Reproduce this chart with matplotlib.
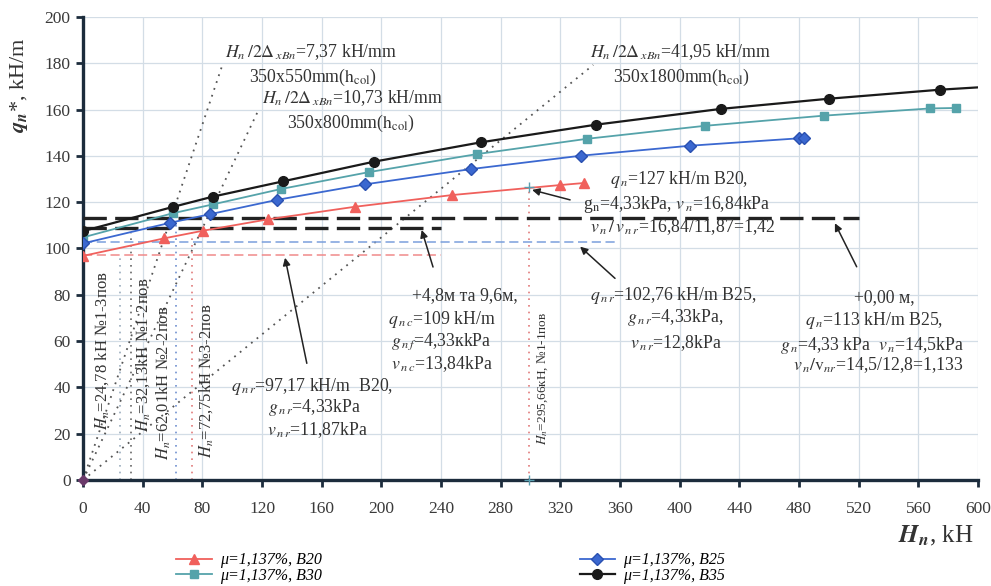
import matplotlib.pyplot as plt
import numpy as np

plt.rcParams['font.family'] = ['Liberation Serif', 'DejaVu Serif']
plt.rcParams['mathtext.fontset'] = 'stix'

# curves
h_b20 = [0, 54.5, 80.6, 124, 182, 247.6, 319.8, 336]
q_b20 = [96.8, 104.4, 107.7, 112.6, 118, 123.1, 127.4, 128.3]
h_b25 = [0, 58.3, 85, 130, 189, 260, 334, 407, 480, 483]
q_b25 = [102.2, 111.1, 114.8, 121, 127.7, 134.3, 140.1, 144.4, 147.6, 147.6]
h_b30 = [0, 60, 87.4, 132.7, 191.7, 264.3, 338, 417, 497, 567.8, 585]
q_b30 = [104.8, 115.2, 119.1, 125.7, 133, 140.8, 147.4, 153, 157.4, 160.5, 160.7]
h_b35 = [0, 60.5, 87, 134, 195, 267, 344, 427.5, 500, 574.6, 600]
q_b35 = [107.5, 118, 122.4, 129, 137.5, 145.9, 153.5, 160.3, 164.7, 168.6, 169.6]

# horizontal design levels: value, x end
lev_values = [113, 109, 102.76, 97.17]
lev_xend = [520, 240, 357, 240]

# vertical markers: H value, top q
vert_h = [24.78, 32.13, 62.01, 72.75, 299]
vert_top = [96.5, 106.5, 110, 107, 126.7]

# stiffness lines from origin: end point
stiff_h = [93, 117.6, 342]
stiff_q = [178.5, 159.8, 179.3]

red = '#f0605c'
teal = '#55a3aa'
blue = '#3b68d0'
dark = '#1a1a1a'

fig = plt.figure(figsize=(9.91, 5.86), dpi=100)
ax = fig.add_axes([0.0838, 0.1809, 0.9032, 0.7901])

ax.set_xlim(0, 600)
ax.set_ylim(0, 200)
ax.set_xticks(np.arange(0, 601, 40))
ax.set_yticks(np.arange(0, 201, 20))
ax.grid(True, color='#d3dde6', lw=0.9)
ax.set_axisbelow(True)
for s in ['top', 'right']:
    ax.spines[s].set_visible(False)
for s in ['left', 'bottom']:
    ax.spines[s].set_color('#1c2c3c')
    ax.spines[s].set_linewidth(2.4)
ax.tick_params(direction='out', length=5, width=2, color='#1c2c3c',
               labelsize=12.5, labelcolor='#3a3a3a')
ax.tick_params(axis='x', pad=10)
ax.tick_params(axis='y', pad=4)

# stiffness lines
for h, q in zip(stiff_h, stiff_q):
    ax.plot([0, h], [0, q], color='#555555', lw=1.3, ls=(0, (1, 3)), zorder=2)

# vertical dotted lines
vcols = ['#9aacbc', '#666666', '#7090d0', '#e07a7a', '#e07a7a']
for h, t, c in zip(vert_h, vert_top, vcols):
    ax.plot([h, h], [0, t], color=c, lw=1.2, ls=(0, (1, 3)), zorder=2)

# horizontal levels
ax.plot([0, lev_xend[0]], [lev_values[0]] * 2, color='#222222', lw=2.4, ls=(0, (7, 2.5)), zorder=3)
ax.plot([0, lev_xend[1]], [lev_values[1]] * 2, color='#222222', lw=2.4, ls=(0, (7, 2.5)), zorder=3)
ax.plot([0, lev_xend[2]], [lev_values[2]] * 2, color='#7a9fdc', lw=1.1, ls=(0, (6, 3)), zorder=3)
ax.plot([0, lev_xend[3]], [lev_values[3]] * 2, color='#f08a8a', lw=1.1, ls=(0, (6, 3)), zorder=3)

# curves
l20, = ax.plot(h_b20, q_b20, color=red, lw=1.3, marker='^', ms=7, zorder=5)
l30, = ax.plot(h_b30, q_b30, color=teal, lw=1.3, marker='s', ms=6, zorder=5)
l25, = ax.plot(h_b25, q_b25, color=blue, lw=1.3, marker='D', ms=6.5, mec='#2a50b0', zorder=5)
l35, = ax.plot(h_b35, q_b35, color=dark, lw=1.6, marker='o', ms=7, markevery=list(range(10)), zorder=6)

ax.plot([vert_h[4]], [vert_top[4]], marker='+', color='#5a9fb0', ms=7, zorder=7)
ax.plot([vert_h[4]], [0], marker='+', color='#5a9fb0', ms=7, zorder=7, clip_on=False)
ax.plot([0], [0], marker='D', color='#6a3a6a', ms=5, zorder=7, clip_on=False)

fs = 12.8
tc = '#333333'
# stiffness labels
ax.text(95, 185, r'$H_n\,/2\Delta_{\,xBn}$=7,37 kH/mm', fontsize=fs, color=tc, va='center')
ax.text(111, 174, r'350x550mm($\mathrm{h_{col}}$)', fontsize=fs, color=tc, va='center')
ax.text(120, 165, r'$H_n\,/2\Delta_{\,xBn}$=10,73 kH/mm', fontsize=fs, color=tc, va='center')
ax.text(137, 154.2, r'350x800mm($\mathrm{h_{col}}$)', fontsize=fs, color=tc, va='center')
ax.text(340, 185, r'$H_n\,/2\Delta_{\,xBn}$=41,95 kH/mm', fontsize=fs, color=tc, va='center')
ax.text(355, 174, r'350x1800mm($\mathrm{h_{col}}$)', fontsize=fs, color=tc, va='center')

# vertical labels
vlabels = [r'$H_n$=24,78 kH №1-3пов', r'$H_n$=32,13kH №1-2пов',
           r'$H_n$=62,01kH №2-2пов', r'$H_n$=72,75kH №3-2пов']
vlx = [12.7, 40.2, 53.6, 82.5]
vly = [56, 54, 42, 43]
for t, x, y in zip(vlabels, vlx, vly):
    ax.text(x, y, t, rotation=90, fontsize=12, color=tc, ha='center', va='center')
ax.text(308.4, 44, r'$H_n$=295,66кН, №1-1пов', rotation=90, fontsize=9.5,
        color=tc, ha='center', va='center')

# annotation blocks
blocks = [
    ([r'$q_{\,n\,r}$=97,17 kH/m  B20,', r'$g_{\,n\,r}$=4,33kPa', r'$v_{\,n\,r}$=11,87kPa'],
     [99, 124, 123], [40.2, 31.5, 21.6]),
    ([r'+4,8м та 9,6м,', r'$q_{\,n\,c}$=109 kH/m', r'$g_{\,n\,f}$=4,33кkPa', r'$v_{\,n\,c}$=13,84kPa'],
     [220.6, 204.5, 206.5, 206.5], [79.5, 69.5, 59.6, 50.1]),
    ([r'$q_{\,n}$=127 kH/m B20,', r'g$_\mathrm{n}$=4,33kPa, $v_{\,n}$=16,84kPa',
      r'$v_{\,n}\,/\,v_{\,n\,r}$=16,84/11,87=1,42'],
     [353.3, 335.2, 339.9], [129.6, 119.2, 109.3]),
    ([r'$q_{\,n\,r}$=102,76 kH/m B25,', r'$g_{\,n\,r}$=4,33kPa,', r'$v_{\,n\,r}$=12,8kPa'],
     [340, 364.7, 366.7], [79.9, 70, 59.2]),
    ([r'+0,00 м,', r'$q_{\,n}$=113 kH/m B25,', r'$g_{\,n}$=4,33 kPa  $v_{\,n}$=14,5kPa',
      r'$v_{\,n}/\mathrm{v}_{nr}$=14,5/12,8=1,133'],
     [517, 484, 467.3, 476], [79, 69.1, 58.3, 49.5]),
]
for lines, xs, ys in blocks:
    for t, x, y in zip(lines, xs, ys):
        ax.text(x, y, t, fontsize=fs, color=tc, va='center', zorder=8)

# arrows: start, target
arr_from = [(150, 50.4), (234.6, 92), (326.5, 121), (356.6, 87.1), (518.6, 92.1)]
arr_to = [(135.4, 96), (227, 108), (301, 125.3), (333.2, 100.8), (504, 110.9)]
for (x0, y0), (x1, y1) in zip(arr_from, arr_to):
    ax.annotate('', xy=(x1, y1), xytext=(x0, y0),
                arrowprops=dict(arrowstyle='-|>', color='#222222', lw=1.1,
                                mutation_scale=11, shrinkA=0, shrinkB=0), zorder=8)

# axis labels
fig.text(0.019, 0.855, r'$\mathbfit{q}_{\mathbfit{n}}$*, kH/m', rotation=90, fontsize=16,
         color=tc, ha='center', va='center')
fig.text(0.944, 0.085, r'$\mathbfit{H}_{\mathbfit{n}}$, kH', fontsize=18, color=tc,
         ha='center', va='center')

lab = ['μ=1,137%, B20', 'μ=1,137%, B30', 'μ=1,137%, B25', 'μ=1,137%, B35']
leg_kw = dict(frameon=False, handlelength=2.2, handletextpad=0.5,
              labelspacing=-0.05, borderpad=0, prop=dict(style='italic', size=11.5))
fig.legend([l20, l30], lab[:2], loc='upper left', bbox_to_anchor=(0.170, 0.071), **leg_kw)
fig.legend([l25, l35], lab[2:], loc='upper left', bbox_to_anchor=(0.577, 0.071), **leg_kw)

fig.savefig('out.png', dpi=100)
